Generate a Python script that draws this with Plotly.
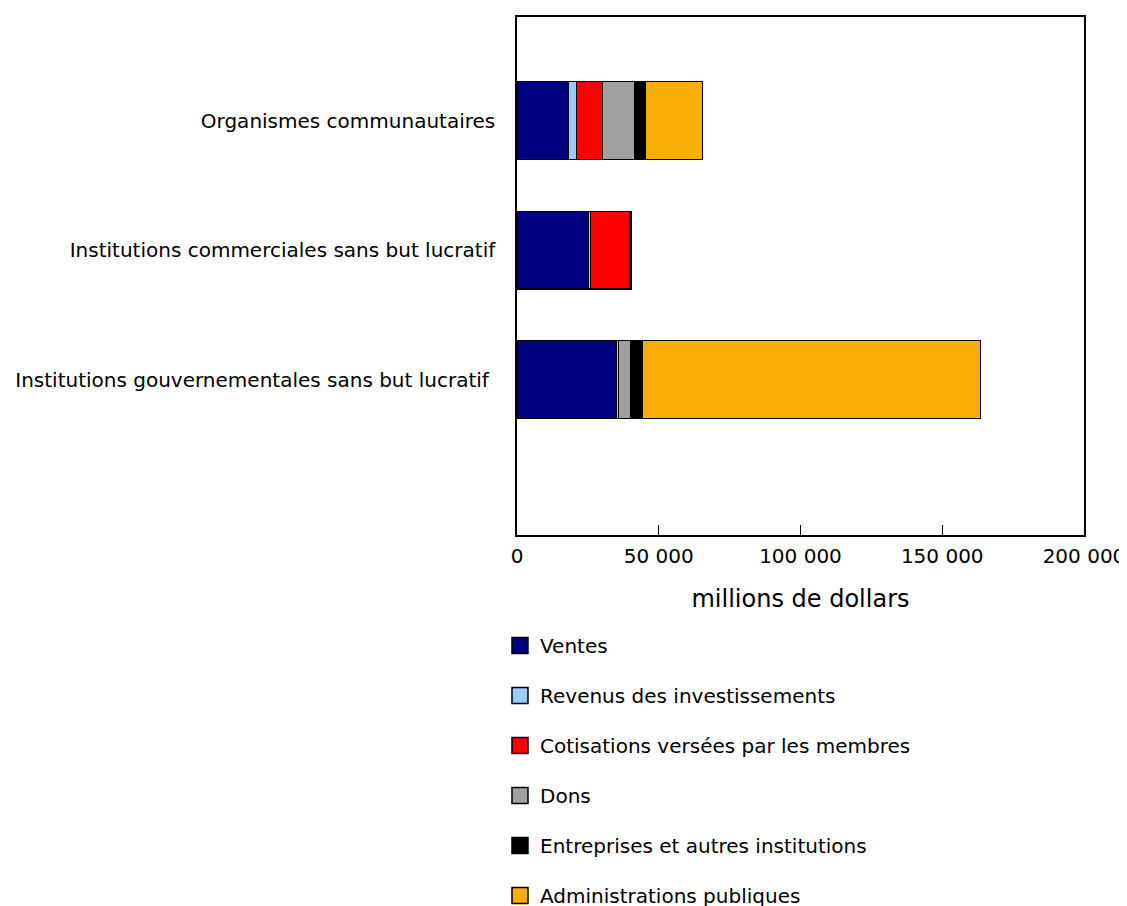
import plotly.graph_objects as go

categories = ["Institutions gouvernementales sans but lucratif ",
              "Institutions commerciales sans but lucratif",
              "Organismes communautaires"]
series_names = ["Ventes", "Revenus des investissements", "Cotisations versées par les membres",
                "Dons", "Entreprises et autres institutions", "Administrations publiques"]
ventes = [35100, 25300, 18100]
revenus = [800, 700, 2800]
cotisations = [0, 13600, 9200]
dons = [4300, 0, 11400]
entreprises = [4200, 800, 3700]
administrations = [119000, 0, 20100]
colors = ["#000080", "#99CCFF", "#FF0000", "#A0A0A0", "#000000", "#F9AD07"]

values = [ventes, revenus, cotisations, dons, entreprises, administrations]

fig = go.Figure()
for name, vals, col in zip(series_names, values, colors):
    fig.add_trace(go.Bar(
        y=categories, x=vals, name=name, orientation="h",
        marker=dict(color=col, line=dict(color="#000000", width=1.2)),
        width=0.6, legendgroup=name, showlegend=False,
    ))
# legend entries with larger square swatches
for name, col in zip(series_names, colors):
    fig.add_trace(go.Scatter(
        x=[None], y=[None], mode="markers", name=name, legendgroup=name,
        marker=dict(symbol="square", size=20, color=col,
                    line=dict(color="#000000", width=1.5)),
        showlegend=True,
    ))

font = "Verdana, DejaVu Sans, sans-serif"
fig.update_layout(
    barmode="stack",
    width=1127, height=906,
    margin=dict(l=506, r=51, t=7, b=379),
    paper_bgcolor="white", plot_bgcolor="white",
    separators=", ",
    font=dict(family=font, size=20, color="#000000"),
    showlegend=True,
    legend=dict(x=-0.03, xanchor="left", yref="container", y=0.318, yanchor="top",
                traceorder="grouped", tracegroupgap=21,
                font=dict(family=font, size=20), itemwidth=30,
                itemsizing="trace"),
    xaxis=dict(range=[0, 200000], tickvals=[0, 50000, 100000, 150000, 200000],
               tickformat=",d", ticks="inside", ticklen=10, tickcolor="#000000",
               showline=True, linecolor="#000000", linewidth=1.5, mirror=True,
               showgrid=False, zeroline=False, ticklabelstandoff=2,
               title=dict(text="millions de dollars", standoff=23)),
    yaxis=dict(range=[-1.2, 2.8], showline=True, linecolor="#000000", linewidth=1.5,
               mirror=True, showgrid=False, ticks="", ticklabelstandoff=16),
)

fig.write_html("out.html")
